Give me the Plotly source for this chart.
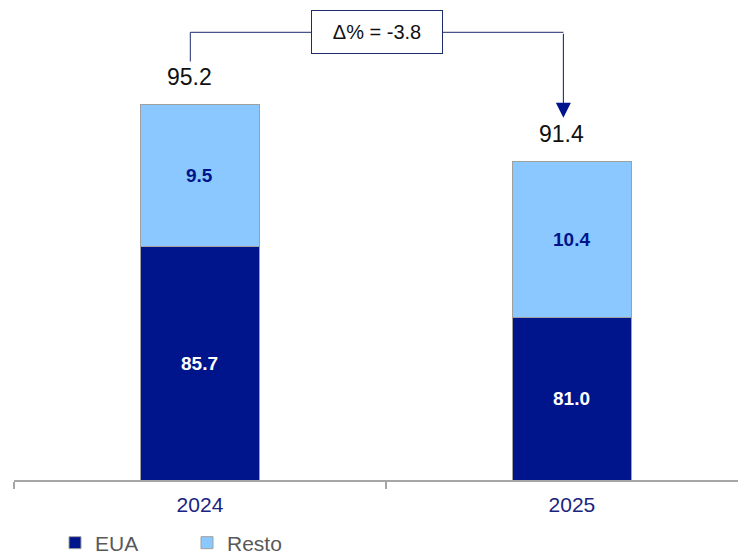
import plotly.graph_objects as go

categories = ["2024", "2025"]
eua = [85.7, 81.0]
resto = [9.5, 10.4]
totals = [95.2, 91.4]
delta_label = "Δ% = -3.8"

NAVY = "#00148C"
LIGHT = "#8AC8FF"
LINE = "#1F2A6E"
FONT = "Liberation Sans, Arial, sans-serif"

Y0, Y1 = 70.15, 101.62

fig = go.Figure()
fig.add_trace(go.Bar(name="EUA", x=categories, y=eua, marker=dict(color=NAVY, line=dict(color="#A0A0A0", width=1)),
                     width=0.32, hoverinfo="skip"))
fig.add_trace(go.Bar(name="Resto", x=categories, y=resto, marker=dict(color=LIGHT, line=dict(color="#A0A0A0", width=1)),
                     width=0.32, hoverinfo="skip"))

annotations = []
for i, c in enumerate(categories):
    annotations.append(dict(x=i, y=(max(0, Y0) + eua[i]) / 2, xref="x", yref="y", text=f"<b>{eua[i]:.1f}</b>",
                            showarrow=False, font=dict(family=FONT, size=19, color="white")))
    annotations.append(dict(x=i, y=eua[i] + resto[i] / 2, xref="x", yref="y", text=f"<b>{resto[i]:.1f}</b>",
                            showarrow=False, font=dict(family=FONT, size=19, color=NAVY)))
    annotations.append(dict(x=i - 0.027, y=totals[i], xref="x", yref="y", text=f"{totals[i]:.1f}",
                            showarrow=False, yshift=27, font=dict(family=FONT, size=23, color="#111111")))

xl, xr = 0 - 0.026, 1 - 0.023
ytop = 100.0
yl = totals[0] + 2.85
ytip = totals[1] + 2.9
xm = (xl + xr) / 2
shapes = [
    dict(type="path", xref="x", yref="y", path=f"M {xl},{yl} L {xl},{ytop} L {xr},{ytop}",
         line=dict(color=LINE, width=1)),
]
annotations.append(dict(x=xr, y=ytip, ax=xr, ay=ytop, xref="x", yref="y", axref="x", ayref="y", text="",
                        showarrow=True, arrowhead=2, arrowsize=3, arrowwidth=1, arrowcolor=NAVY))
annotations.append(dict(x=xm, y=ytop, xref="x", yref="y", text=delta_label, showarrow=False,
                        font=dict(family=FONT, size=20, color="#111111"), bgcolor="white",
                        bordercolor=LINE, borderwidth=1, borderpad=9, width=112, height=24))

fig.update_layout(
    barmode="stack",
    width=738, height=548,
    margin=dict(l=6, r=0, t=0, b=76, autoexpand=False),
    paper_bgcolor="white", plot_bgcolor="white",
    font=dict(family=FONT),
    showlegend=True,
    legend=dict(orientation="h", xref="container", yref="container", x=0.0637, y=0.0237,
                xanchor="left", yanchor="middle",
                font=dict(family=FONT, size=21, color="#595959"), entrywidth=87, entrywidthmode="pixels",
                itemclick=False, traceorder="normal"),
    annotations=annotations,
    shapes=shapes,
)
fig.update_xaxes(range=[-0.5, 1.468], tickson="boundaries", ticks="outside", ticklen=7, tickcolor="#A6A6A6",
                 tickwidth=2, showline=True, linecolor="#A6A6A6", linewidth=2, showgrid=False,
                 tickfont=dict(family=FONT, size=21, color="#1A2480"), ticklabelstandoff=5, fixedrange=True)
fig.update_yaxes(range=[Y0, Y1], visible=False, showgrid=False, fixedrange=True)

fig.write_html("out.html")
